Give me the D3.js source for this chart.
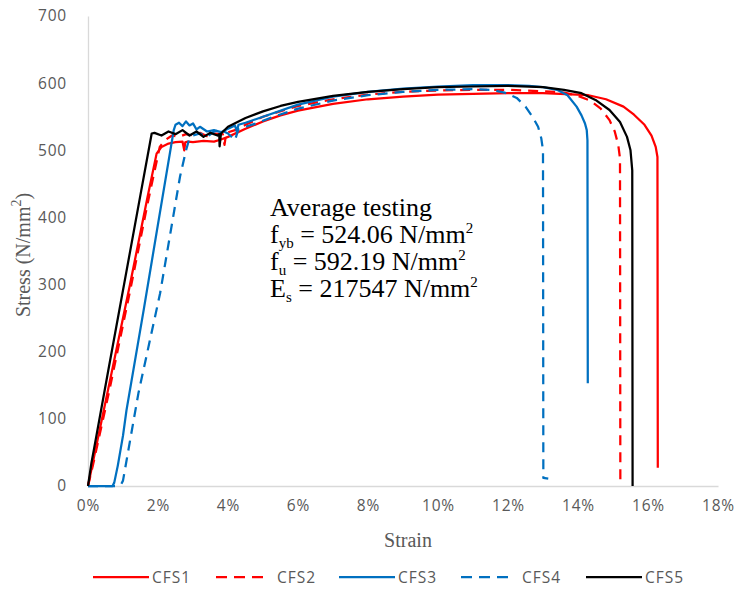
<!DOCTYPE html>
<html>
<head>
<meta charset="utf-8">
<script src="https://cdn.jsdelivr.net/npm/d3@7/dist/d3.min.js"></script>
<style>
  body { margin: 0; background: #fff; }
  svg { display: block; }
  .tick-label { font-family: "Open Sans", sans-serif; font-size: 15.5px; letter-spacing: 0.8px; fill: #595959; }
  .axis-title { font-family: "Liberation Serif", "Times New Roman", serif; font-size: 20px; fill: #595959; }
  .note { font-family: "Liberation Serif", "Times New Roman", serif; font-size: 26px; fill: #000; }
  .legend-label { font-family: "Open Sans", sans-serif; font-size: 15.5px; letter-spacing: 1px; fill: #595959; }
</style>
</head>
<body>
<div id="chart"></div>
<script>
// strain in %, stress in N/mm2
const cfs1Strain = [0, 0.15, 0.6, 1.2, 1.7, 1.96, 2.1, 2.3, 2.5, 2.7, 2.75, 2.78, 2.85, 3.0, 3.3, 3.6, 3.8, 4.0, 4.5, 5.0, 5.5, 6.0, 7.0, 8.0, 9.0, 10.0, 11.0, 12.0, 13.0, 14.3, 14.8, 15.3, 15.6, 15.9, 16.1, 16.22, 16.27, 16.28];
const cfs1Stress = [0, 38, 150, 300, 430, 495, 505, 510, 512, 513, 500, 512, 513, 512, 514, 513, 516, 520, 532, 543, 552, 559, 569, 576, 580, 583, 584, 585, 585, 582, 576, 565, 553, 538, 522, 505, 490, 27];

const cfs2Strain = [0, 0.15, 0.6, 1.2, 1.7, 2.05, 2.2, 2.4, 2.6, 2.8, 3.0, 3.2, 3.4, 3.6, 3.85, 3.9, 3.95, 4.2, 4.5, 5.0, 6.0, 7.0, 8.0, 9.0, 10.0, 11.0, 12.0, 13.0, 13.6, 14.0, 14.35, 14.65, 14.9, 15.05, 15.15, 15.2, 15.21];
const cfs2Stress = [0, 33, 140, 290, 420, 505, 515, 522, 520, 524, 522, 526, 521, 525, 524, 508, 526, 530, 538, 550, 566, 576, 583, 587, 589, 590, 590, 588, 586, 581, 574, 562, 545, 528, 508, 488, 0];

const cfs3Strain = [0, 0.7, 0.75, 0.85, 1.0, 1.1, 1.6, 2.0, 2.45, 2.5, 2.6, 2.7, 2.8, 2.9, 3.0, 3.1, 3.2, 3.4, 3.6, 3.8, 4.0, 4.2, 4.25, 4.3, 4.5, 5.0, 6.0, 7.0, 8.0, 9.0, 10.0, 11.0, 12.0, 12.6, 13.0, 13.4, 13.7, 13.96, 14.1, 14.2, 14.25, 14.27, 14.28];
const cfs3Stress = [0, 0, 5, 30, 75, 113, 265, 390, 530, 538, 541, 536, 543, 537, 540, 531, 535, 528, 530, 527, 532, 537, 528, 538, 541, 550, 568, 580, 587, 592, 595, 597, 597, 596, 594, 590, 582, 565, 552, 540, 530, 515, 153];

const cfs4Strain = [0, 0.8, 0.95, 1.0, 1.44, 2.06, 2.63, 2.8, 2.9, 3.0, 3.2, 3.4, 3.6, 3.8, 4.0, 4.2, 4.3, 4.5, 4.8, 5.0, 5.3, 6.0, 7.0, 8.0, 9.0, 10.0, 11.0, 11.5, 11.9, 12.25, 12.5, 12.7, 12.86, 12.95, 13.0, 13.01, 13.15];
const cfs4Stress = [0, 0, 3, 8, 138, 287, 461, 500, 518, 522, 525, 520, 528, 530, 525, 515, 532, 535, 540, 544, 550, 562, 574, 582, 587, 590, 591, 590, 586, 578, 565, 550, 535, 518, 500, 12, 11];

const cfs5Strain = [0, 0.1, 0.15, 0.6, 1.1, 1.5, 1.82, 1.9, 2.1, 2.3, 2.5, 2.7, 2.9, 3.1, 3.3, 3.5, 3.7, 3.75, 3.76, 3.8, 4.0, 4.5, 5.0, 5.5, 6.0, 7.0, 8.0, 9.0, 10.0, 11.0, 12.0, 13.0, 13.6, 14.1, 14.5, 14.9, 15.2, 15.4, 15.5, 15.55, 15.56];
const cfs5Stress = [0, 35, 49, 178, 320, 434, 525, 526, 522, 528, 524, 530, 522, 528, 520, 526, 522, 524, 506, 525, 535, 548, 558, 566, 572, 581, 587, 591, 594, 595, 596, 594, 590, 585, 575, 560, 542, 520, 500, 470, 0];

const seriesNames = ['CFS1', 'CFS2', 'CFS3', 'CFS4', 'CFS5'];
const seriesColors = ['#FF0000', '#FF0000', '#0070C0', '#0070C0', '#000000'];
const seriesDashed = [false, true, false, true, false];

const xTicks = [0, 2, 4, 6, 8, 10, 12, 14, 16, 18];
const yTicks = [0, 100, 200, 300, 400, 500, 600, 700];

const noteLines = [
    {main: 'Average testing'},
    {main: 'f', sub: 'yb', rest: ' = 524.06 N/mm', sup: '2'},
    {main: 'f', sub: 'u', rest: ' = 592.19 N/mm', sup: '2'},
    {main: 'E', sub: 's', rest: ' = 217547 N/mm', sup: '2'}
];

// building the series table from the arrays
const strains = [cfs1Strain, cfs2Strain, cfs3Strain, cfs4Strain, cfs5Strain];
const stresses = [cfs1Stress, cfs2Stress, cfs3Stress, cfs4Stress, cfs5Stress];
const series = seriesNames.map((name, i) => ({
    name: name,
    color: seriesColors[i],
    dashed: seriesDashed[i],
    values: strains[i].map((s, j) => ({strain: s, stress: stresses[i][j]}))
}));

// layout
const width = 749, height = 589;
const margin = {t: 16, r: 31, b: 103, l: 88};
const w = width - margin.l - margin.r;
const h = height - margin.t - margin.b;

const svg = d3.select('#chart').append('svg')
    .attr('width', width)
    .attr('height', height);

const plot = svg.append('g')
    .attr('transform', `translate(${margin.l},${margin.t})`);

// scales
const scaleX = d3.scaleLinear().domain([0, 18]).range([0, w]);
const scaleY = d3.scaleLinear().domain([0, 700]).range([h, 0]);

// axes
const axisX = d3.axisBottom(scaleX).tickValues(xTicks).tickSize(0).tickPadding(14)
    .tickFormat(d => d + '%');
const axisY = d3.axisLeft(scaleY).tickValues(yTicks).tickSize(0).tickPadding(21);

const gx = plot.append('g').attr('transform', `translate(0,${h})`).call(axisX);
const gy = plot.append('g').call(axisY);
[gx, gy].forEach(g => {
    g.attr('font-size', null).attr('font-family', null);
    g.select('.domain').attr('stroke', '#D9D9D9').attr('stroke-width', 1.3);
    g.selectAll('text').attr('class', 'tick-label');
});

// curves
const line = d3.line()
    .x(d => scaleX(d.strain))
    .y(d => scaleY(d.stress));

plot.selectAll('.curve')
    .data(series)
    .join('path')
    .attr('class', 'curve')
    .attr('d', d => line(d.values))
    .attr('fill', 'none')
    .attr('stroke', d => d.color)
    .attr('stroke-width', 2.25)
    .attr('stroke-linejoin', 'round')
    .attr('stroke-dasharray', d => d.dashed ? '10,7' : null);

// annotation box, one text per line
const noteX = scaleX(5.2);
noteLines.forEach((ln, i) => {
    const base = 200 + i * 27;
    const t = plot.append('text')
        .attr('class', 'note')
        .attr('x', noteX)
        .attr('y', base);
    t.append('tspan').text(ln.main);
    if (ln.sub) {
        t.append('tspan').attr('dy', 5).attr('font-size', 15).text(ln.sub);
        t.append('tspan').attr('dy', -5).text(ln.rest);
        t.append('tspan').attr('dy', -10).attr('font-size', 15).text(ln.sup);
    }
});

// axis titles
const yTitle = svg.append('text')
    .attr('class', 'axis-title')
    .attr('text-anchor', 'middle')
    .attr('font-size', 22)
    .attr('transform', `translate(30,255) rotate(-90)`);
yTitle.append('tspan').text('Stress (N/mm');
yTitle.append('tspan').attr('dy', -9).attr('font-size', 14).text('2');
yTitle.append('tspan').attr('dy', 9).text(')');

svg.append('text')
    .attr('class', 'axis-title')
    .attr('text-anchor', 'middle')
    .attr('x', 408)
    .attr('y', 547)
    .text('Strain');

// legend
const legendX = [93, 216, 339, 461, 586];
const legend = svg.selectAll('.legend-item')
    .data(series)
    .join('g')
    .attr('class', 'legend-item')
    .attr('transform', (d, i) => `translate(${legendX[i]},577)`);
legend.append('line')
    .attr('x1', 0).attr('x2', d => d.dashed ? 47 : 56)
    .attr('y1', 0).attr('y2', 0)
    .attr('stroke', d => d.color)
    .attr('stroke-width', 2.25)
    .attr('stroke-dasharray', d => d.dashed ? '11,7' : null);
legend.append('text')
    .attr('class', 'legend-label')
    .attr('x', d => d.dashed ? 61 : 59)
    .attr('y', 5.5)
    .text(d => d.name);
</script>
</body>
</html>
